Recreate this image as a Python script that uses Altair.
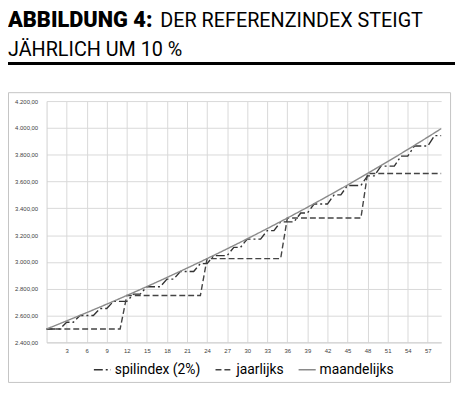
import altair as alt
import pandas as pd

# ---------------- data ----------------
months = list(range(0, 60))
series_names = ["spilindex (2%)", "jaarlijks", "maandelijks"]

maandelijks = [2500.00, 2519.94, 2540.03, 2560.28, 2580.70, 2601.28, 2622.02, 2642.93, 2664.00, 2685.25,
               2706.66, 2728.24, 2750.00, 2771.93, 2794.03, 2816.31, 2838.77, 2861.41, 2884.22, 2907.22,
               2930.40, 2953.78, 2977.33, 3001.06, 3025.00, 3049.13, 3073.44, 3097.94, 3122.65, 3147.55,
               3172.64, 3197.95, 3223.44, 3249.15, 3275.06, 3301.17, 3327.50, 3354.04, 3380.78, 3407.73,
               3434.91, 3462.30, 3489.91, 3517.74, 3545.78, 3574.07, 3602.57, 3631.29, 3660.25, 3689.44,
               3718.86, 3748.51, 3778.40, 3808.53, 3838.90, 3869.51, 3900.37, 3931.48, 3962.82, 3994.41]

jaarlijks = [2500.00, 2500.00, 2500.00, 2500.00, 2500.00, 2500.00, 2500.00, 2500.00, 2500.00, 2500.00,
             2500.00, 2500.00, 2750.00, 2750.00, 2750.00, 2750.00, 2750.00, 2750.00, 2750.00, 2750.00,
             2750.00, 2750.00, 2750.00, 2750.00, 3025.00, 3025.00, 3025.00, 3025.00, 3025.00, 3025.00,
             3025.00, 3025.00, 3025.00, 3025.00, 3025.00, 3025.00, 3327.50, 3327.50, 3327.50, 3327.50,
             3327.50, 3327.50, 3327.50, 3327.50, 3327.50, 3327.50, 3327.50, 3327.50, 3660.25, 3660.25,
             3660.25, 3660.25, 3660.25, 3660.25, 3660.25, 3660.25, 3660.25, 3660.25, 3660.25, 3660.25]

spilindex = [2500.00, 2500.00, 2500.00, 2550.00, 2550.00, 2601.00, 2601.00, 2601.00, 2653.02, 2653.02,
             2706.08, 2706.08, 2706.08, 2760.20, 2760.20, 2815.41, 2815.41, 2815.41, 2871.71, 2871.71,
             2929.15, 2929.15, 2929.15, 2987.73, 2987.73, 3047.49, 3047.49, 3047.49, 3108.44, 3108.44,
             3170.60, 3170.60, 3170.60, 3234.02, 3234.02, 3298.70, 3298.70, 3298.70, 3364.67, 3364.67,
             3431.96, 3431.96, 3431.96, 3500.60, 3500.60, 3570.62, 3570.62, 3570.62, 3642.03, 3642.03,
             3714.87, 3714.87, 3714.87, 3789.17, 3789.17, 3864.95, 3864.95, 3864.95, 3942.25, 3942.25]

x_tick_values = [3, 6, 9, 12, 15, 18, 21, 24, 27, 30, 33, 36, 39, 42, 45, 48, 51, 54, 57]
y_tick_values = [2400, 2600, 2800, 3000, 3200, 3400, 3600, 3800, 4000, 4200]

title_bold = "ABBILDUNG 4:"
title_rest = "DER REFERENZINDEX STEIGT"
title_line2 = "JÄHRLICH UM 10 %"

# ---------------- table ----------------
rows = []
for name, vals in zip(series_names, [spilindex, jaarlijks, maandelijks]):
    for m, v in zip(months, vals):
        rows.append({"maand": m, "waarde": v, "reeks": name})
df = pd.DataFrame(rows)

colors = ["#333333", "#444444", "#8a8a8a"]
dashes = [[9, 3, 2, 3], [6, 3], [1, 0]]

legend_cfg = dict(
    title=None, orient="none", legendX=47, legendY=262, direction="horizontal",
    symbolType="stroke", symbolSize=300, symbolStrokeWidth=1.5,
    labelFontSize=14, labelFont="Roboto", labelColor="#000000",
    labelOffset=3, columnPadding=11,
)

lines = alt.Chart(df).mark_line(strokeWidth=1.4).encode(
    x=alt.X("maand:Q",
            scale=alt.Scale(domain=[0, 59], nice=False),
            axis=alt.Axis(values=x_tick_values, title=None, labelFontSize=6,
                          labelFont="Liberation Sans", labelColor="#404040",
                          ticks=False, labelPadding=5, gridColor="#d9d9d9",
                          domainColor="#d0d0d0")),
    y=alt.Y("waarde:Q",
            scale=alt.Scale(domain=[2400, 4200], nice=False, zero=False),
            axis=alt.Axis(values=y_tick_values, title=None, labelFontSize=6,
                          labelFont="Liberation Sans", labelColor="#404040",
                          ticks=False, labelPadding=9, gridColor="#d9d9d9",
                          domainColor="#d0d0d0",
                          labelExpr="replace(replace(replace(format(datum.value, ',.2f'), ',', '#'), '.', ','), '#', '.')")),
    color=alt.Color("reeks:N", scale=alt.Scale(domain=series_names, range=colors),
                    legend=alt.Legend(**legend_cfg)),
    strokeDash=alt.StrokeDash("reeks:N", scale=alt.Scale(domain=series_names, range=dashes),
                              legend=alt.Legend(**legend_cfg)),
)

deco = pd.DataFrame({"k": [0]})
box = alt.Chart(deco).mark_rect(fillOpacity=0, stroke="#c4c4c4", strokeWidth=1).encode(
    x=alt.value(-38.5), x2=alt.value(408.5), y=alt.value(-8.5), y2=alt.value(284.5)
)
rule = alt.Chart(deco).mark_rule(color="#000000", strokeWidth=3).encode(
    x=alt.value(-39), x2=alt.value(413), y=alt.value(-38)
)

t1 = alt.Chart(pd.DataFrame({"t": [title_bold]})).mark_text(
    align="left", baseline="alphabetic", font="Roboto", fontSize=22,
    fontWeight=900, color="#000000").encode(x=alt.value(-39), y=alt.value(-75), text="t:N")
t2 = alt.Chart(pd.DataFrame({"t": [title_rest]})).mark_text(
    align="left", baseline="alphabetic", font="Roboto", fontSize=20,
    fontWeight=400, color="#000000").encode(x=alt.value(115), y=alt.value(-75), text="t:N")
t3 = alt.Chart(pd.DataFrame({"t": [title_line2]})).mark_text(
    align="left", baseline="alphabetic", font="Roboto", fontSize=20,
    fontWeight=400, color="#000000").encode(x=alt.value(-39), y=alt.value(-46), text="t:N")

chart = alt.layer(box, lines, rule, t1, t2, t3).properties(
    width=399, height=244,
    padding={"left": 39, "top": 92, "right": 14, "bottom": 43},
    autosize=alt.AutoSizeParams(type="none"),
).configure_view(strokeWidth=0)

chart.save("out.html", embed_options={"renderer": "svg", "actions": False})
